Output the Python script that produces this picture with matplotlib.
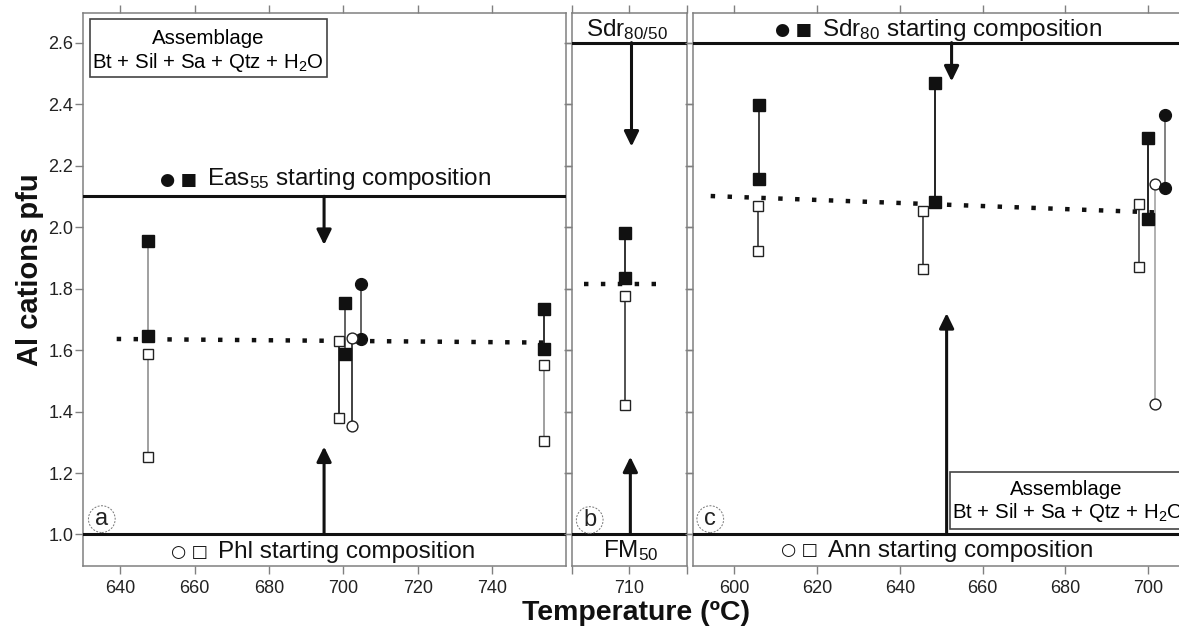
import matplotlib
matplotlib.use("Agg")
from matplotlib import pyplot as plt
from matplotlib.patches import Rectangle

plt.rcParams['font.family'] = ['Liberation Sans', 'DejaVu Sans']
plt.rcParams['mathtext.fontset'] = 'custom'
plt.rcParams['mathtext.rm'] = 'Liberation Sans'
plt.rcParams['mathtext.it'] = 'Liberation Sans:italic'
plt.rcParams['mathtext.bf'] = 'Liberation Sans:bold'

# (a) Phl / Eas55 runs: each entry is one pair of analyses joined by a tie line
a_temp = [647.4, 647.4, 700.3, 698.8, 704.8, 702.2, 754.0, 754.0]
a_high = [1.955, 1.587, 1.753, 1.630, 1.814, 1.638, 1.735, 1.551]
a_low = [1.647, 1.253, 1.586, 1.380, 1.636, 1.354, 1.603, 1.305]
a_start = ['Eas', 'Phl', 'Eas', 'Phl', 'Eas', 'Phl', 'Eas', 'Phl']
a_run = ['sq', 'sq', 'sq', 'sq', 'ci', 'ci', 'sq', 'sq']
a_trend_temp = [639.1, 756.5]
a_trend = [1.636, 1.624]

# (b) FM50 / Sdr80/50 runs
b_temp = [708.8, 708.8]
b_high = [1.980, 1.776]
b_low = [1.833, 1.420]
b_start = ['Sdr', 'FM']
b_run = ['sq', 'sq']
b_trend_temp = [698.2, 720.1]
b_trend = [1.814, 1.814]

# (c) Ann / Sdr80 runs
c_temp = [606.0, 605.8, 648.6, 645.7, 700.0, 697.8, 701.6, 704.0]
c_high = [2.397, 2.070, 2.470, 2.053, 2.291, 2.075, 2.139, 2.365]
c_low = [2.157, 1.923, 2.083, 1.863, 2.025, 1.871, 1.423, 2.126]
c_start = ['Sdr', 'Ann', 'Sdr', 'Ann', 'Sdr', 'Ann', 'Ann', 'Sdr']
c_run = ['sq', 'sq', 'sq', 'sq', 'sq', 'sq', 'ci', 'ci']
c_trend_temp = [594.3, 703.2]
c_trend = [2.101, 2.047]

# starting compositions (Al pfu) and the arrows pointing from them
a_lines = [2.1, 1.0]
b_lines = [2.6, 1.0]
c_lines = [2.6, 1.0]

# tie line shades (style only)
a_link = ['#999999', '#999999', '#555555', '#222222', '#555555', '#333333', '#222222', '#999999']
b_link = ['#222222', '#444444']
c_link = ['#333333', '#444444', '#111111', '#444444', '#111111', '#555555', '#aaaaaa', '#777777']

filled_starts = ['Eas', 'Sdr']

W, H = 1179, 629
fig = plt.figure(figsize=(W / 100, H / 100), dpi=100)


def make_axes(x0, x1, y0=12.5, y1=566):
    return fig.add_axes([x0 / W, 1 - y1 / H, (x1 - x0) / W, (y1 - y0) / H])


ax_a = make_axes(83, 565.7)
ax_b = make_axes(571.7, 686.7)
ax_c = make_axes(693.3, 1190)

yticks = [1.0, 1.2, 1.4, 1.6, 1.8, 2.0, 2.2, 2.4, 2.6]
for ax in (ax_a, ax_b, ax_c):
    ax.set_ylim(0.8975, 2.698)
    ax.set_yticks(yticks)
    for s in ax.spines.values():
        s.set_color('#808080')
        s.set_linewidth(1.1)
    ax.tick_params(direction='out', top=True, right=True, length=6, width=1.0,
                   color='#808080', labelcolor='#222222', labelsize=13)
    ax.tick_params(axis='y', pad=1)
    ax.tick_params(axis='x', pad=4)

ax_a.set_yticklabels([f'{v:.1f}' for v in yticks])
ax_b.set_yticklabels([])
ax_c.set_yticklabels([])

ax_a.set_xlim(630.05, 759.7)
ax_a.set_xticks([640, 660, 680, 700, 720, 740])
ax_b.set_xlim(695, 725)
ax_b.set_xticks([695, 710, 725])
ax_b.set_xticklabels(['', '710', ''])
ax_c.set_xlim(590.1, 710.1)
ax_c.set_xticks([600, 620, 640, 660, 680, 700])


def draw_pairs(ax, temp, high, low, start, run, link):
    for t, hi, lo, st, r, col in zip(temp, high, low, start, run, link):
        ax.plot([t, t], [hi, lo], color=col, lw=1.3, zorder=2)
        marker = 's' if r == 'sq' else 'o'
        if st in filled_starts:
            ax.plot([t, t], [hi, lo], ls='none', marker=marker, ms=8.5,
                    mfc='#111111', mec='#111111', zorder=4)
        else:
            ax.plot([t, t], [hi, lo], ls='none', marker=marker, ms=7.8,
                    mfc='white', mec='#222222', mew=1.0, zorder=4)


def draw_trend(ax, temp, vals):
    ax.plot(temp, vals, color='#111111', lw=3.2, ls=(0, (1, 2.8)),
            dash_capstyle='butt', zorder=3)


def arrow(ax, x, y_from, y_to):
    ax.annotate('', xy=(x, y_to), xytext=(x, y_from),
                arrowprops=dict(arrowstyle='-|>,head_length=0.45,head_width=0.22',
                                lw=2.2, color='#111111', shrinkA=0, shrinkB=0,
                                mutation_scale=20), zorder=5)


def circle_label(ax, x, y, s):
    ax.text(x, y, s, fontsize=17, ha='center', va='center', color='#222222',
            bbox=dict(boxstyle='circle,pad=0.1', fc='none', ec='#777777',
                      lw=0.7, ls=(0, (2, 1.5))))


def key(ax, x, y, s):
    ax.text(x, y, s, fontsize=12.5, family='DejaVu Sans', ha='center', va='center',
            color='#111111')


for ax, lines in ((ax_a, a_lines), (ax_b, b_lines), (ax_c, c_lines)):
    for v in lines:
        ax.axhline(v, color='#111111', lw=2.2, zorder=3)

draw_pairs(ax_a, a_temp, a_high, a_low, a_start, a_run, a_link)
draw_pairs(ax_b, b_temp, b_high, b_low, b_start, b_run, b_link)
draw_pairs(ax_c, c_temp, c_high, c_low, c_start, c_run, c_link)
draw_trend(ax_a, a_trend_temp, a_trend)
draw_trend(ax_b, b_trend_temp, b_trend)
draw_trend(ax_c, c_trend_temp, c_trend)

arrow(ax_a, 694.8, a_lines[0], 1.942)
arrow(ax_a, 694.8, a_lines[1], 1.286)
arrow(ax_b, 710.6, b_lines[0], 2.262)
arrow(ax_b, 710.3, b_lines[1], 1.253)
arrow(ax_c, 652.5, c_lines[0], 2.474)
arrow(ax_c, 651.3, c_lines[1], 1.720)

# starting composition labels
fs = 17.5
key(ax_a, 655.6, 2.153, '\u25cf \u25a0')
ax_a.text(663.3, 2.137, 'Eas$_{55}$ starting composition', fontsize=fs, va='baseline', color='#111111')
key(ax_a, 658.6, 0.944, '\u25cb \u25a1')
ax_a.text(666.2, 0.9226, 'Phl starting composition', fontsize=fs, va='baseline', color='#111111')

ax_b.text(709.4, 2.62, 'Sdr$_{80/50}$', fontsize=fs, ha='center', va='baseline', color='#111111')
ax_b.text(710.5, 0.926, 'FM$_{50}$', fontsize=fs, ha='center', va='baseline', color='#111111')

key(ax_c, 614.4, 2.641, '\u25cf \u25a0')
ax_c.text(621.1, 2.622, 'Sdr$_{80}$ starting composition', fontsize=fs, va='baseline', color='#111111')
key(ax_c, 615.8, 0.9496, '\u25cb \u25a1')
ax_c.text(622.7, 0.928, 'Ann starting composition', fontsize=fs, va='baseline', color='#111111')

# assemblage boxes
ax_a.add_patch(Rectangle((631.9, 2.4885), 695.6 - 631.9, 2.677 - 2.4885, fc='white',
                         ec='#444444', lw=1.2, zorder=6))
ax_a.text(663.6, 2.595, 'Assemblage', fontsize=14.7, ha='center', va='baseline', zorder=7)
ax_a.text(663.5, 2.519, 'Bt + Sil + Sa + Qtz + H$_2$O', fontsize=14.7, ha='center',
          va='baseline', zorder=7)

ax_c.add_patch(Rectangle((652.1, 1.017), 709.3 - 652.1, 1.204 - 1.017, fc='white',
                         ec='#444444', lw=1.2, zorder=6, clip_on=False))
ax_c.text(680.3, 1.1285, 'Assemblage', fontsize=14.7, ha='center', va='baseline', zorder=7)
ax_c.text(680.5, 1.053, 'Bt + Sil + Sa + Qtz + H$_2$O', fontsize=14.7, ha='center',
          va='baseline', zorder=7)

circle_label(ax_a, 635.1, 1.050, 'a')
circle_label(ax_b, 699.7, 1.047, 'b')
circle_label(ax_c, 594.2, 1.050, 'c')

fig.text(30 / W, 1 - 270 / H, 'Al cations pfu', rotation=90, fontsize=21,
         fontweight='bold', ha='center', va='center', color='#111111')
fig.text(636 / W, 1 - 613 / H, 'Temperature (\u00baC)', fontsize=20.5,
         fontweight='bold', ha='center', va='center', color='#111111')

fig.savefig('out.png', dpi=100)
